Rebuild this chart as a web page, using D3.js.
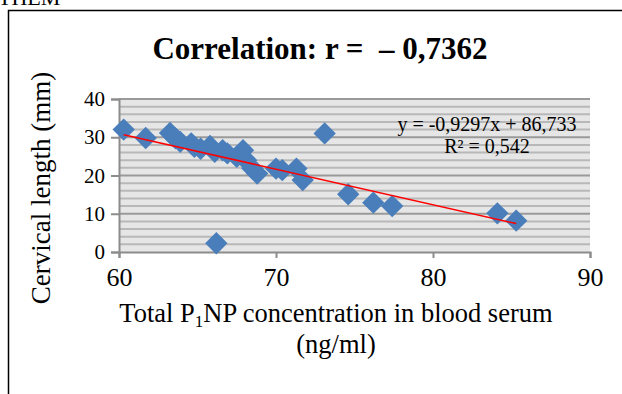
<!DOCTYPE html>
<html>
<head>
<meta charset="utf-8">
<script src="https://cdn.jsdelivr.net/npm/d3@7"></script>
<style>
  body { margin: 0; background: #fff; }
  text { font-family: "Liberation Serif", "Times New Roman", serif; }
</style>
</head>
<body>
<svg id="chart" width="622" height="394"></svg>
<script>
// P1NP concentration (ng/ml) vs cervical length (mm)
const p1np = [60.3, 61.7, 63.25, 63.6, 63.9, 64.6, 64.8, 65.2, 65.8, 66.1, 66.6, 66.9,
  67.5, 67.9, 68.1, 68.5, 68.8, 70.0, 70.4, 71.3, 71.7, 73.1, 74.6, 76.2, 77.4, 84.1, 85.3, 66.2]
const cervix = [32, 29.8, 31.1, 29.7, 28.8, 28.4, 27.5, 27, 27.7, 26.2, 26.6, 25.8,
  24.9, 26.6, 24, 21.8, 20.5, 21.8, 21.4, 21.8, 18.8, 31, 15.1, 12.9, 12, 10.1, 8.2, 2.3]
const xTicks = [60, 70, 80, 90]
const yTicks = [0, 10, 20, 30, 40]
const slope = -0.9297
const intercept = 86.733
const fitRange = [60.3, 85.3]
const titleText = 'Correlation: r =  \u2013 0,7362'
const eqText = 'y = -0,9297x + 86,733'
const r2Text = 'R\u00b2 = 0,542'

const svg = d3.select('#chart')
const points = p1np.map((v, i) => ({ x: v, y: cervix[i] }))

const x = d3.scaleLinear().domain([60, 90]).range([119, 590])
const y = d3.scaleLinear().domain([0, 40]).range([252, 99])

// cut-off text from the page above and the chart frame
svg.append('text').attr('x', -2).attr('y', 5).attr('font-size', 22).text('THEM')
svg.append('path')
  .attr('d', 'M8.5,394 V10.5 H622')
  .attr('fill', 'none').attr('stroke', '#000').attr('stroke-width', 1.5)

// plot area
svg.append('rect')
  .attr('x', x(60)).attr('y', y(40))
  .attr('width', x(90) - x(60)).attr('height', y(0) - y(40))
  .attr('fill', '#e6e6e6')

svg.append('g')
  .selectAll('line')
  .data(d3.range(2, 41, 2))
  .join('line')
  .attr('x1', x(60)).attr('x2', x(90))
  .attr('y1', d => y(d)).attr('y2', d => y(d))
  .attr('stroke', d => d % 10 === 0 ? '#9a9a9a' : '#b8b8b8')
  .attr('stroke-width', 2)

// axes
const xAxis = svg.append('g').attr('class', 'xaxis')
  .attr('transform', `translate(0,${y(0)})`)
  .call(d3.axisBottom(x).tickValues(xTicks).tickSize(6).tickPadding(10))
const yAxis = svg.append('g').attr('class', 'yaxis')
  .attr('transform', `translate(${x(60)},0)`)
  .call(d3.axisLeft(y).tickValues(yTicks).tickSize(8).tickPadding(6))

for (const ax of [xAxis, yAxis]) {
  ax.select('.domain').attr('stroke', '#8c8c8c').attr('stroke-width', 2)
  ax.selectAll('.tick line').attr('stroke', '#8c8c8c').attr('stroke-width', 2)
  ax.selectAll('.tick text')
    .attr('font-family', '"Liberation Serif", serif')
    .attr('font-size', 21).attr('fill', '#000')
}
xAxis.selectAll('.tick text').attr('font-size', 26)

// markers
svg.append('g')
  .selectAll('path')
  .data(points)
  .join('path')
  .attr('transform', d => `translate(${x(d.x)},${y(d.y)}) rotate(45)`)
  .attr('d', d3.symbol().type(d3.symbolSquare).size(250))
  .attr('fill', '#4a7ebb')

// trend line
svg.append('line')
  .attr('x1', x(fitRange[0])).attr('y1', y(slope * fitRange[0] + intercept))
  .attr('x2', x(fitRange[1])).attr('y2', y(slope * fitRange[1] + intercept))
  .attr('stroke', '#ff0000').attr('stroke-width', 1.5)

// texts
svg.append('text')
  .attr('x', 320).attr('y', 59)
  .attr('text-anchor', 'middle')
  .attr('font-size', 31).attr('font-weight', 'bold')
  .style('white-space', 'pre')
  .text(titleText)

svg.append('text')
  .attr('x', 487).attr('y', 131)
  .attr('text-anchor', 'middle').attr('font-size', 20)
  .text(eqText)
svg.append('text')
  .attr('x', 487).attr('y', 153)
  .attr('text-anchor', 'middle').attr('font-size', 20)
  .text(r2Text)

svg.append('text')
  .attr('transform', 'translate(50,188) rotate(-90)')
  .attr('text-anchor', 'middle').attr('font-size', 27)
  .text('Cervical length (mm)')

const xt = svg.append('text')
  .attr('x', 336).attr('y', 322)
  .attr('text-anchor', 'middle').attr('font-size', 26.5)
xt.append('tspan').text('Total P')
xt.append('tspan').attr('font-size', 17).attr('dy', 5).text('1')
xt.append('tspan').attr('dy', -5).text('NP concentration in blood serum')
svg.append('text')
  .attr('x', 336).attr('y', 353)
  .attr('text-anchor', 'middle').attr('font-size', 26.5)
  .text('(ng/ml)')
</script>
</body>
</html>
